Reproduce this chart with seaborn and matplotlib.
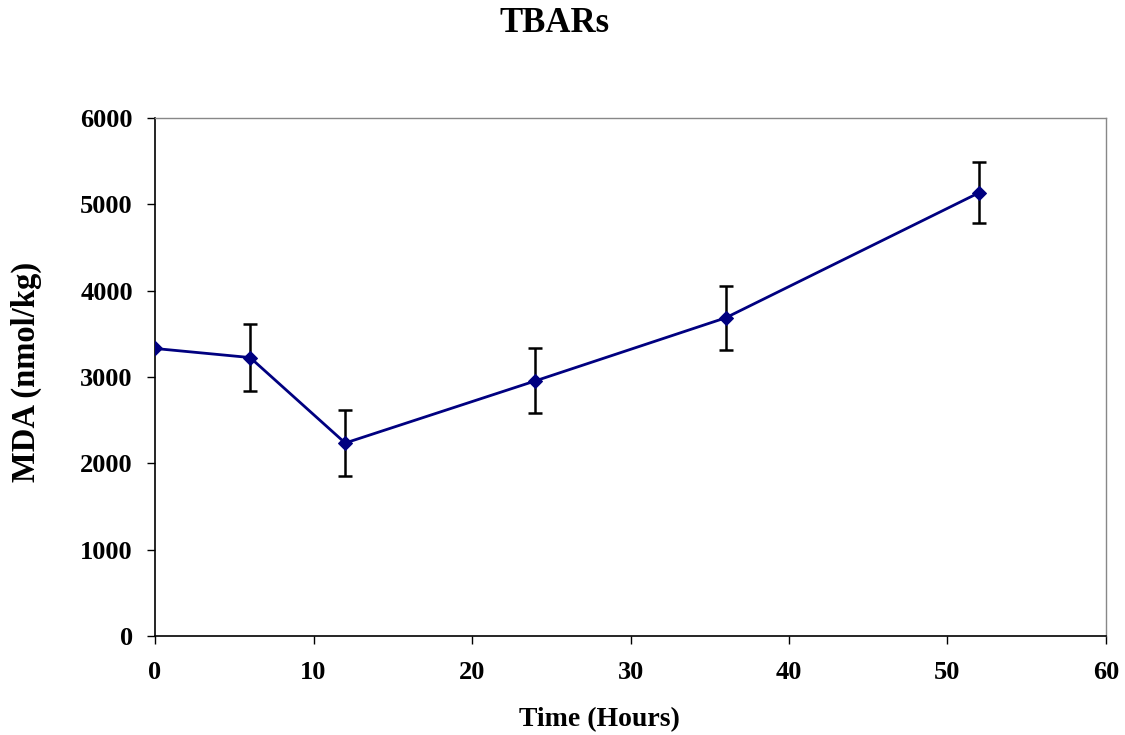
import numpy as np
import pandas as pd
import matplotlib
matplotlib.use("Agg")
import matplotlib.pyplot as plt
import seaborn as sns

sns.set_style("ticks")
plt.rcParams['font.family'] = ['Liberation Serif', 'DejaVu Serif']
plt.rcParams['font.weight'] = 'bold'
plt.rcParams['text.color'] = 'black'
plt.rcParams['axes.labelcolor'] = 'black'
plt.rcParams['xtick.color'] = 'black'
plt.rcParams['ytick.color'] = 'black'

# data
hours = [0, 6, 12, 24, 36, 52]
mda = [3330, 3225, 2235, 2955, 3685, 5135]
mda_err = [0, 385, 385, 375, 370, 350]

df = pd.DataFrame({'hours': hours, 'mda': mda, 'err': mda_err})

fig = plt.figure(figsize=(11.25, 7.35), dpi=100)
ax = fig.add_axes([0.1378, 0.1347, 0.8453, 0.7048])

# error bars (only where there is a spread)
eb = df[df['err'] > 0]
ax.errorbar(eb['hours'], eb['mda'], yerr=eb['err'], fmt='none',
            ecolor='black', elinewidth=1.8, capsize=5, capthick=1.8, zorder=2)

sns.lineplot(data=df, x='hours', y='mda', color='#000080', linewidth=2,
             marker='D', markersize=7, markeredgecolor='#000080', ax=ax, zorder=3)

ax.set_xlim(0, 60)
ax.set_ylim(0, 6000)
ax.set_xticks(range(0, 61, 10))
ax.set_yticks(range(0, 6001, 1000))
ax.tick_params(axis='both', direction='out', length=6, width=1)
ax.tick_params(axis='x', labelsize=19, pad=12)
ax.tick_params(axis='y', labelsize=19, pad=10)
for lbl in ax.get_xticklabels() + ax.get_yticklabels():
    lbl.set_fontweight('bold')

for side in ['left', 'bottom']:
    ax.spines[side].set_color('black')
    ax.spines[side].set_linewidth(1.2)
for side in ['top', 'right']:
    ax.spines[side].set_color('#888888')
    ax.spines[side].set_linewidth(1)

ax.set_xlabel("Time (Hours)", fontsize=20, fontweight='bold')
ax.set_ylabel("MDA (nmol/kg)", fontsize=23.5, fontweight='bold')
ax.xaxis.set_label_coords(0.467, -0.137)
ax.yaxis.set_label_coords(-0.119, 0.51)
fig.suptitle("TBARs", fontsize=25, fontweight='bold', x=0.493, y=0.99)

fig.savefig("out.png", dpi=100)
